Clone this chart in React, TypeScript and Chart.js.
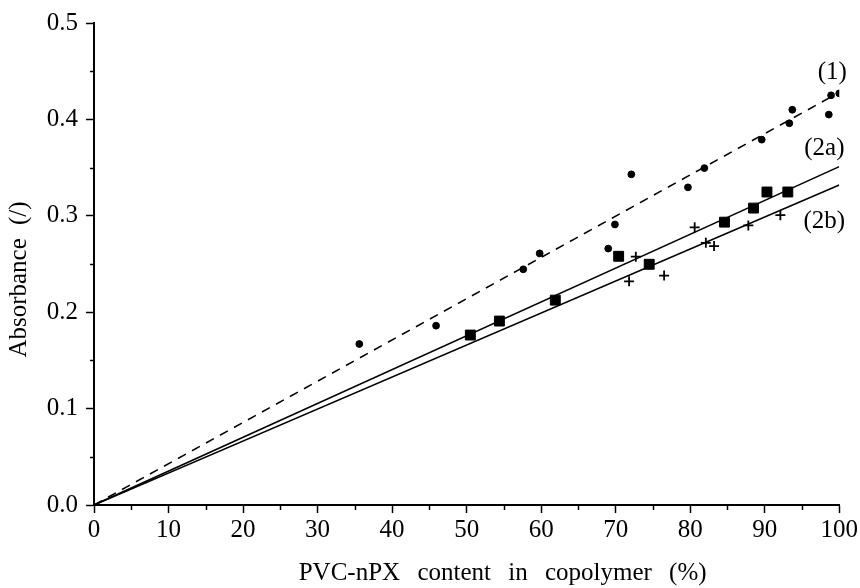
import React, { useEffect, useRef } from 'react';
import { Chart, registerables } from 'chart.js';

Chart.register(...registerables);

// Series (1): filled circles, dashed fit
const series1X = [35.6, 45.9, 57.6, 59.8, 69.0, 69.9, 72.1, 79.7, 81.9, 89.6, 93.3, 93.7, 98.6, 98.9, 100];
const series1Y = [0.167, 0.186, 0.2445, 0.261, 0.266, 0.291, 0.343, 0.3295, 0.3495, 0.379, 0.396, 0.41, 0.405, 0.425, 0.427];

// Series (2a): filled squares
const series2aX = [50.5, 54.4, 61.9, 70.4, 74.5, 84.6, 88.5, 90.3, 93.1];
const series2aY = [0.1763, 0.1908, 0.2125, 0.258, 0.2497, 0.2934, 0.308, 0.3247, 0.3247];

// Series (2b): plus signs
const series2bX = [71.8, 72.7, 76.5, 80.6, 82.1, 83.2, 87.8, 92.1];
const series2bY = [0.232, 0.2576, 0.238, 0.288, 0.272, 0.2686, 0.29, 0.3006];

// Fitted lines
const fitX = [0, 100];
const fit1Y = [0, 0.428];
const fit2aY = [0, 0.351];
const fit2bY = [0, 0.332];

// Ticks
const xTicks = [0, 10, 20, 30, 40, 50, 60, 70, 80, 90, 100];
const xMinorTicks = [5, 15, 25, 35, 45, 55, 65, 75, 85, 95];
const yTicks = [0, 0.1, 0.2, 0.3, 0.4, 0.5];
const yMinorTicks = [0.05, 0.15, 0.25, 0.35, 0.45];

// Curve labels (anchored in data units)
const curveLabels = ['(1)', '(2a)', '(2b)'];
const curveLabelX = [99.06, 98.0, 98.0];
const curveLabelY = [0.449, 0.37, 0.294];

const xTitle = 'PVC-nPX content in copolymer (%)';
const yTitle = 'Absorbance (/)';

const FONT = '"Liberation Serif", "Times New Roman", serif';

const toPts = (xs: number[], ys: number[]) => xs.map((x, i) => ({ x, y: ys[i] }));

const decorPlugin = {
  id: 'decor',
  afterDraw(chart: any) {
    const { ctx, chartArea, scales } = chart;
    const xs = scales.x;
    const ys = scales.y;
    ctx.save();
    ctx.strokeStyle = '#000';
    ctx.lineWidth = 1.5;
    ctx.beginPath();
    xMinorTicks.forEach((v) => {
      const px = Math.round(xs.getPixelForValue(v)) + 0.5;
      ctx.moveTo(px, chartArea.bottom);
      ctx.lineTo(px, chartArea.bottom + 5);
    });
    yMinorTicks.forEach((v) => {
      const py = Math.round(ys.getPixelForValue(v)) + 0.5;
      ctx.moveTo(chartArea.left, py);
      ctx.lineTo(chartArea.left - 4, py);
    });
    ctx.stroke();

    ctx.fillStyle = '#000';
    ctx.font = `25px ${FONT}`;
    ctx.textAlign = 'center';
    ctx.textBaseline = 'middle';
    curveLabels.forEach((t, i) => {
      ctx.fillText(t, xs.getPixelForValue(curveLabelX[i]), ys.getPixelForValue(curveLabelY[i]));
    });

    (ctx as any).wordSpacing = '11px';
    ctx.fillText(xTitle, (chartArea.left + chartArea.right) / 2 + 36, 573);

    (ctx as any).wordSpacing = '7px';
    ctx.translate(19, (chartArea.top + chartArea.bottom) / 2 + 15.5);
    ctx.rotate(-Math.PI / 2);
    ctx.fillText(yTitle, 0, 0);
    ctx.restore();
  },
};

export default function App() {
  const canvasRef = useRef<HTMLCanvasElement | null>(null);

  useEffect(() => {
    document.body.style.margin = '0';
    const canvas = canvasRef.current;
    if (!canvas) return;
    const chart = new Chart(canvas, {
      type: 'scatter',
      data: {
        datasets: [
          {
            label: '(1) fit',
            data: toPts(fitX, fit1Y),
            showLine: true,
            pointRadius: 0,
            borderColor: '#000',
            borderWidth: 1.5,
            borderDash: [9, 7],
            fill: false,
          },
          {
            label: '(2a) fit',
            data: toPts(fitX, fit2aY),
            showLine: true,
            pointRadius: 0,
            borderColor: '#000',
            borderWidth: 1.6,
            fill: false,
          },
          {
            label: '(2b) fit',
            data: toPts(fitX, fit2bY),
            showLine: true,
            pointRadius: 0,
            borderColor: '#000',
            borderWidth: 1.6,
            fill: false,
          },
          {
            label: '(1)',
            data: toPts(series1X, series1Y),
            pointStyle: 'circle',
            pointRadius: 3.4,
            backgroundColor: '#000',
            borderColor: '#000',
            borderWidth: 1,
          },
          {
            label: '(2a)',
            data: toPts(series2aX, series2aY),
            pointStyle: 'rect',
            pointRadius: 7,
            backgroundColor: '#000',
            borderColor: '#000',
            borderWidth: 1,
          },
          {
            label: '(2b)',
            data: toPts(series2bX, series2bY),
            pointStyle: 'cross',
            pointRadius: 5,
            backgroundColor: '#000',
            borderColor: '#000',
            borderWidth: 1.8,
          },
        ],
      },
      options: {
        responsive: false,
        animation: false,
        events: [],
        layout: { padding: { left: 0, right: 20, top: 21, bottom: 0 } },
        plugins: {
          legend: { display: false },
          tooltip: { enabled: false },
          title: { display: false },
        },
        scales: {
          x: {
            type: 'linear',
            min: 0,
            max: 100,
            afterBuildTicks: (scale: any) => {
              scale.ticks = xTicks.map((v) => ({ value: v }));
            },
            afterFit: (scale: any) => {
              scale.height = 83;
            },
            ticks: {
              autoSkip: false,
              maxRotation: 0,
              padding: 2,
              color: '#000',
              font: { family: FONT, size: 25 },
              callback: (v: any) => String(v),
            },
            grid: {
              display: true,
              drawOnChartArea: false,
              drawTicks: true,
              tickLength: 8,
              tickColor: '#000',
              tickWidth: 1.5,
            },
            border: { display: true, color: '#000', width: 2 },
          },
          y: {
            type: 'linear',
            min: 0,
            max: 0.5,
            afterBuildTicks: (scale: any) => {
              scale.ticks = yTicks.map((v) => ({ value: v }));
            },
            afterFit: (scale: any) => {
              scale.width = 94;
            },
            ticks: {
              autoSkip: false,
              padding: 8,
              color: '#000',
              font: { family: FONT, size: 25 },
              callback: (v: any) => Number(v).toFixed(1),
            },
            grid: {
              display: true,
              drawOnChartArea: false,
              drawTicks: true,
              tickLength: 8,
              tickColor: '#000',
              tickWidth: 1.5,
            },
            border: { display: true, color: '#000', width: 2 },
          },
        },
      },
      plugins: [decorPlugin],
    } as any);
    return () => chart.destroy();
  }, []);

  return (
    <div style={{ width: 860, height: 588, background: '#fff' }}>
      <canvas ref={canvasRef} width={860} height={588} />
    </div>
  );
}
